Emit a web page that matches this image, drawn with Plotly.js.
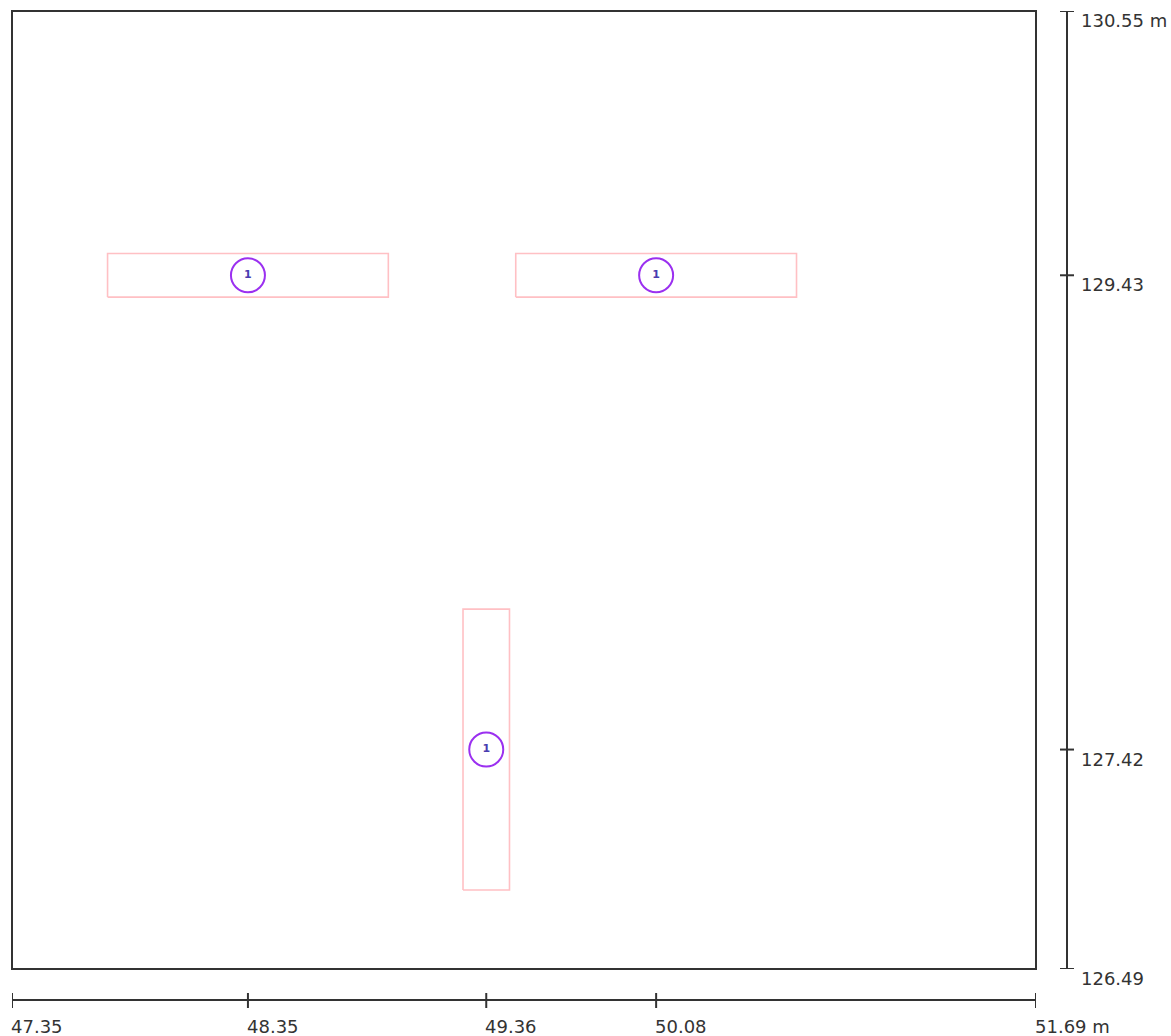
<!DOCTYPE html>
<html>
<head>
<meta charset="utf-8">
<script src="https://cdn.plot.ly/plotly-3.0.1.min.js"></script>
<style>html,body{margin:0;padding:0;background:#fff;}#plot{width:1171px;height:1036px;}</style>
</head>
<body>
<div id="plot"></div>
<script>
// Data (metres)
var xTickVals = [47.35, 48.35, 49.36, 50.08, 51.69];
var xTickText = ["47.35", "48.35", "49.36", "50.08", "51.69 m"];
var yTickVals = [130.55, 129.43, 127.42, 126.49];
var yTickText = ["130.55 m", "129.43", "127.42", "126.49"];

var elemCx = [48.35, 50.08, 49.36];
var elemCy = [129.43, 129.43, 127.42];
var elemW = [1.19, 1.19, 0.197];
var elemH = [0.185, 0.185, 1.19];
var elemLabel = ["1", "1", "1"];

var xRange = [47.35, 51.69];
var yRange = [126.49, 130.55];

var W = 1171, H = 1036;
var mL = 12, mR = 104, mT = 11, mB = 36;
var paperW = W - mL - mR, paperH = H - mT - mB;
var gap = 31;

var traces = [];
for (var i = 0; i < elemCx.length; i++) {
  var x0 = elemCx[i] - elemW[i] / 2, x1 = elemCx[i] + elemW[i] / 2;
  var y0 = elemCy[i] - elemH[i] / 2, y1 = elemCy[i] + elemH[i] / 2;
  traces.push({
    type: 'scatter', mode: 'lines',
    x: [x0, x1, x1, x0, x0], y: [y0, y0, y1, y1, y0],
    line: {color: '#ffc0c4', width: 1.6},
    hoverinfo: 'skip', showlegend: false
  });
}
traces.push({
  type: 'scatter', mode: 'markers+text',
  x: elemCx, y: elemCy, text: elemLabel,
  textposition: 'middle center',
  textfont: {family: 'DejaVu Sans', size: 11, color: '#4a3cb0', weight: 'bold'},
  marker: {symbol: 'circle', size: 34, color: 'rgba(255,255,255,0)', line: {color: '#9b30f0', width: 2}},
  showlegend: false, hoverinfo: 'skip'
});

var shapes = [{
  type: 'rect', xref: 'x domain', yref: 'y domain', x0: 0, x1: 1, y0: 0, y1: 1,
  line: {color: '#333', width: 2}
}];
xTickVals.forEach(function (v) {
  shapes.push({type: 'line', xref: 'x', yref: 'paper', x0: v, x1: v,
    y0: -8 / paperH, y1: 7 / paperH, line: {color: '#333', width: 2}});
});
yTickVals.forEach(function (v) {
  shapes.push({type: 'line', xref: 'paper', yref: 'y', x0: 1 - 7 / paperW, x1: 1 + 7 / paperW,
    y0: v, y1: v, line: {color: '#333', width: 2}});
});

var annotations = [];
var fnt = {family: 'DejaVu Sans', size: 18, color: '#333'};
xTickVals.forEach(function (v, i) {
  annotations.push({xref: 'x', yref: 'paper', x: v, y: 0, text: xTickText[i], showarrow: false,
    xanchor: 'left', yanchor: 'top', xshift: -2, yshift: -15, borderpad: 0, font: fnt});
});
yTickVals.forEach(function (v, i) {
  annotations.push({xref: 'paper', yref: 'y', x: 1, y: v, text: yTickText[i], showarrow: false,
    xanchor: 'left', yanchor: 'top', xshift: 12, yshift: 3, font: fnt});
});

var layout = {
  width: W, height: H,
  margin: {l: mL, r: mR, t: mT, b: mB, pad: 0},
  paper_bgcolor: '#fff', plot_bgcolor: '#fff',
  showlegend: false,
  xaxis: {range: xRange, domain: [0, (paperW - gap) / paperW], anchor: 'free', position: 0,
    showline: true, linecolor: '#333', linewidth: 2, showgrid: false, zeroline: false,
    showticklabels: false, ticks: '', fixedrange: true},
  yaxis: {range: yRange, domain: [gap / paperH, 1], anchor: 'free', position: 1, side: 'right',
    showline: true, linecolor: '#333', linewidth: 2, showgrid: false, zeroline: false,
    showticklabels: false, ticks: '', fixedrange: true},
  shapes: shapes,
  annotations: annotations
};

Plotly.newPlot('plot', traces, layout, {displayModeBar: false, staticPlot: true});
</script>
</body>
</html>
